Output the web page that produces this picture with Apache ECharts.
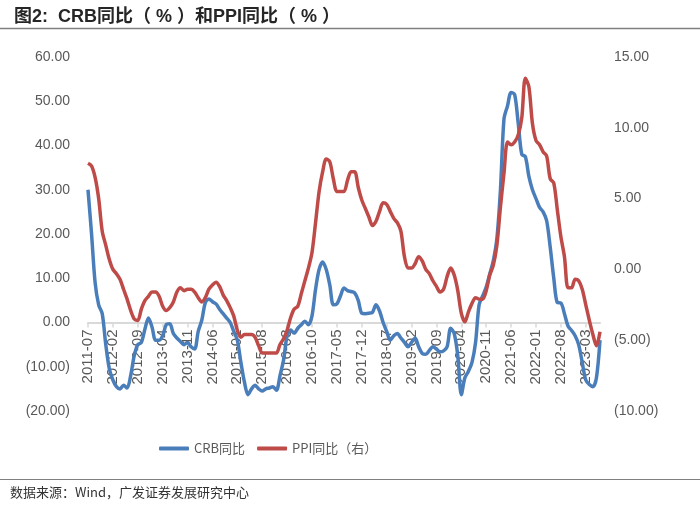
<!DOCTYPE html>
<html>
<head>
<meta charset="utf-8">
<script src="https://cdn.jsdelivr.net/npm/echarts@6/dist/echarts.min.js"></script>
<style>
html,body{margin:0;padding:0;background:#fff;}
#chart{width:700px;height:509px;}
</style>
</head>
<body>
<div id="chart"></div>
<script>
// Monthly categories 2011-07 .. 2023-07
const startYear = 2011, startMonth = 7, monthCount = 145;
const categories = [];
for (let k = 0; k < monthCount; k++) {
  const m = startMonth - 1 + k;
  const y = startYear + Math.floor(m / 12);
  const mm = (m % 12) + 1;
  categories.push(y + '-' + (mm < 10 ? '0' + mm : '' + mm));
}

// CRB YoY (%), left axis
const crbYoY = [
  30, 20, 9, 4, 2, -5,
  -10.5, -13, -14.5, -15, -14.2, -14.8, -12, -7.5, -5, -4.5, -1.5, 1,
  -1, -4, -4, -3, -0.5, -0.3, -2.5, -3.5, -4.3, -5, -4.5, -5.5,
  -6, -2, 0.5, 4.5, 5.3, 4.7, 4.2, 3, 2, 1, 0, -2,
  -4, -9, -13.5, -16.3, -15, -14.2, -15, -15.5, -15, -14.8, -14.5, -15.3,
  -12, -8.5, -3, -1.7, -2.4, -1.3, -0.5, 0.3, -0.5, 1.5, 7.5, 12,
  13.7, 12, 8.5, 4, 4.2, 6, 7.8, 7.2, 7, 6.7, 5, 2.1,
  2, 2.1, 2.3, 4, 2.6, 0, -2, -4, -3, -2.5, -3.5, -4.5,
  -5.5, -4.5, -3.5, -5.5, -7, -7.2, -6.3, -5.5, -6, -6.6, -6.4, -5.5,
  -1.3, -2.5, -7.5, -16.3, -12.5, -11, -9, -4.5, 4, 6, 8, 11,
  14, 19, 30, 46, 49, 52, 51.5, 45, 38, 37.5, 33, 30,
  28, 26, 25, 23, 17, 10, 4.5, 4.4, 2, -0.8, -1.8, -3,
  -5, -9, -13, -14, -14.5, -12.5, -4
];

// China PPI YoY (%), right axis
const ppiYoY = [
  7.5, 7.3, 6.5, 5.0, 2.7, 1.7,
  0.7, 0.0, -0.3, -0.7, -1.4, -2.1, -2.9, -3.5, -3.6, -2.8, -2.2, -1.9,
  -1.6, -1.6, -1.9, -2.6, -2.9, -2.7, -2.3, -1.6, -1.3, -1.5, -1.4, -1.4,
  -1.6, -2.0, -2.3, -2.0, -1.4, -1.1, -0.9, -1.2, -1.8, -2.2, -2.7, -3.3,
  -4.3, -4.8, -4.6, -4.6, -4.6, -4.8, -5.4, -5.9, -5.9, -5.9, -5.9, -5.9,
  -5.3, -4.9, -4.3, -3.4, -2.8, -2.6, -1.7, -0.8, 0.1, 1.2, 3.3, 5.5,
  6.9, 7.8, 7.6, 6.4, 5.5, 5.5, 5.5, 6.3, 6.9, 6.9, 5.8, 4.9,
  4.3, 3.7, 3.1, 3.4, 4.1, 4.7, 4.6, 4.1, 3.6, 3.3, 2.7, 0.9,
  0.1, 0.1, 0.4, 0.9, 0.6, 0.0, -0.3, -0.8, -1.2, -1.6, -1.4, -0.5,
  0.1, -0.4, -1.5, -3.1, -3.7, -3.0, -2.4, -2.0, -2.1, -2.1, -1.5, -0.4,
  0.3, 1.7, 4.4, 6.8, 9.0, 8.8, 9.0, 9.5, 10.7, 13.5, 12.9, 10.3,
  9.1, 8.8, 8.3, 8.0, 6.4, 6.1, 4.2, 2.3, 0.9, -1.3, -1.3, -0.7,
  -0.8, -1.4, -2.5, -3.6, -4.6, -5.4, -4.4
];

const seriesNames = ['CRB同比', 'PPI同比（右）'];
const titleText = '图2:  CRB同比（ % ）和PPI同比（ % ）';
const sourceText = '数据来源：Wind，广发证券发展研究中心';

function fmt(v) {
  return v < 0 ? '(' + Math.abs(v).toFixed(2) + ')' : v.toFixed(2);
}

const chart = echarts.init(document.getElementById('chart'), null, {renderer: 'canvas'});
const latin = '"Liberation Sans", Arial, "Noto Sans CJK SC", sans-serif';
const cjk = '"Noto Sans CJK SC", "Liberation Sans", sans-serif';

// plot area: left axis -20..60 spans y 57..411, so 0 sits at y = 411 - 20/80*354
const gridTop = 57, gridBottomPx = 411;
const zeroY = gridBottomPx - (20 / 80) * (gridBottomPx - gridTop);

chart.setOption({
  animation: false,
  backgroundColor: '#ffffff',
  title: {
    text: titleText,
    left: 9, top: 3,
    textStyle: {fontSize: 18, fontWeight: 'bold', color: '#262626', fontFamily: latin}
  },
  graphic: [
    {type: 'line', shape: {x1: 0, y1: 28.5, x2: 700, y2: 28.5}, style: {stroke: '#7f7f7f', lineWidth: 1.5}},
    {type: 'line', shape: {x1: 0, y1: 479.5, x2: 700, y2: 479.5}, style: {stroke: '#7f7f7f', lineWidth: 1}},
    {type: 'text', left: 10, top: 486, style: {text: sourceText, fontSize: 13, fill: '#333333', fontFamily: cjk}}
  ],
  legend: {
    data: seriesNames,
    left: 154, top: 437,
    itemWidth: 30, itemHeight: 4, itemGap: 12,
    icon: 'roundRect',
    textStyle: {fontSize: 13, color: '#595959', fontFamily: cjk}
  },
  grid: [
    {left: 88, right: 100, top: gridTop, bottom: 509 - gridBottomPx, containLabel: false},
    {left: 88, right: 100, top: gridTop, bottom: 509 - zeroY, containLabel: false}
  ],
  xAxis: [
    {
      type: 'category', gridIndex: 0, data: categories, boundaryGap: false,
      axisLine: {show: false}, axisTick: {show: false}, axisLabel: {show: false}, splitLine: {show: false}
    },
    {
      type: 'category', gridIndex: 1, data: categories, boundaryGap: false, position: 'bottom',
      axisLine: {show: true, onZero: false, lineStyle: {color: '#d9d9d9', width: 2}},
      axisTick: {show: true, interval: 6, length: 5, lineStyle: {color: '#d9d9d9', width: 1.5}},
      axisLabel: {interval: 6, rotate: 90, margin: 7, fontSize: 15, color: '#595959', fontFamily: latin},
      splitLine: {show: false}
    }
  ],
  yAxis: [
    {
      type: 'value', gridIndex: 0, position: 'left', min: -20, max: 60, interval: 10,
      axisLine: {show: false}, axisTick: {show: false}, splitLine: {show: false},
      axisLabel: {formatter: fmt, margin: 18, fontSize: 14, color: '#595959', fontFamily: latin}
    },
    {
      type: 'value', gridIndex: 0, position: 'right', min: -10, max: 15, interval: 5,
      axisLine: {show: false}, axisTick: {show: false}, splitLine: {show: false},
      axisLabel: {formatter: fmt, margin: 14, fontSize: 14, color: '#595959', fontFamily: latin}
    },
    {
      type: 'value', gridIndex: 1, min: 0, max: 1, show: false
    }
  ],
  series: [
    {
      name: seriesNames[0], type: 'line', xAxisIndex: 0, yAxisIndex: 0, data: crbYoY,
      smooth: 0.3, showSymbol: false, symbol: 'none',
      lineStyle: {color: '#4a7ebb', width: 3.5}, itemStyle: {color: '#4a7ebb'}
    },
    {
      name: seriesNames[1], type: 'line', xAxisIndex: 0, yAxisIndex: 1, data: ppiYoY,
      smooth: 0.3, showSymbol: false, symbol: 'none',
      lineStyle: {color: '#be4b48', width: 3.5}, itemStyle: {color: '#be4b48'}
    }
  ]
});
</script>
</body>
</html>
